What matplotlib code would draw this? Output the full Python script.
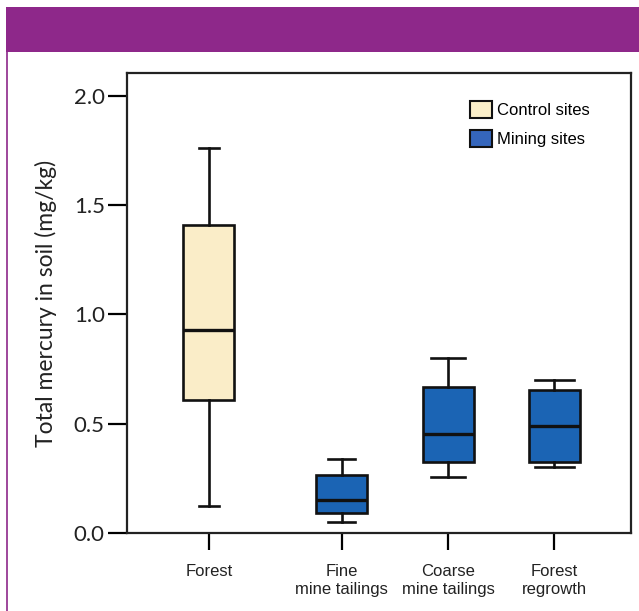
import matplotlib
matplotlib.use("Agg")
import matplotlib.pyplot as plt
from matplotlib.patches import Rectangle, Patch
from matplotlib.lines import Line2D

# ---- data ----
categories = ["Forest", "Fine\nmine tailings", "Coarse\nmine tailings", "Forest\nregrowth"]
groups = ["Control sites", "Mining sites", "Mining sites", "Mining sites"]
whislo = [0.124, 0.052, 0.258, 0.302]
q1 = [0.609, 0.093, 0.325, 0.326]
med = [0.929, 0.151, 0.452, 0.491]
q3 = [1.41, 0.267, 0.668, 0.653]
whishi = [1.76, 0.339, 0.800, 0.700]
yticks = [0.0, 0.5, 1.0, 1.5, 2.0]
ytick_labels = ["0.0", "0.5", "1.0", "1.5", "2.0"]
legend_labels = ["Control sites", "Mining sites"]

# ---- style ----
positions = [0.75, 2.0, 3.0, 4.0]
capwidths = [0.19, 0.25, 0.32, 0.37]
colors = {"Control sites": "#FAEDC8", "Mining sites": "#1B64B4"}
legend_colors = {"Control sites": "#FBEFC9", "Mining sites": "#3566BC"}
purple = "#8E288A"

fig = plt.figure(figsize=(6.39, 6.11), dpi=100)
W, H = 639, 611

# purple banner and left border
fig.patches.append(Rectangle((6 / W, 1 - 52 / H), 1 - 6 / W, 45 / H,
                             transform=fig.transFigure, facecolor=purple,
                             edgecolor="none", zorder=0))
fig.lines.append(Line2D([7 / W, 7 / W], [0, 1 - 52 / H], transform=fig.transFigure,
                        color=purple, lw=1.2))

ax = fig.add_axes([127 / W, (611 - 533) / H, (631 - 127) / W, (533 - 73) / H])

stats = []
for i in range(len(categories)):
    stats.append(dict(med=med[i], q1=q1[i], q3=q3[i], whislo=whislo[i],
                      whishi=whishi[i], fliers=[], label=categories[i]))

bp = ax.bxp(stats, positions=positions, widths=0.48, capwidths=capwidths,
            patch_artist=True, showfliers=False,
            boxprops=dict(linewidth=1.9, edgecolor="#111111"),
            medianprops=dict(color="#111111", linewidth=2.4),
            whiskerprops=dict(color="#111111", linewidth=1.9),
            capprops=dict(color="#111111", linewidth=1.9))
for patch, g in zip(bp["boxes"], groups):
    patch.set_facecolor(colors[g])

ax.set_xlim(-0.02, 4.72)
ax.set_ylim(0, 2.105)
ax.set_yticks(yticks)
ax.set_yticklabels(ytick_labels, fontsize=16, family="Lato", color="#222222")
ax.set_xticks(positions)
ax.set_xticklabels(categories, fontsize=12, family="Liberation Sans",
                   color="#222222", linespacing=1.3)
ax.tick_params(axis="y", direction="out", length=14, width=1.6, pad=2)
ax.tick_params(axis="x", direction="out", length=12, width=1.6, pad=10)
for s in ax.spines.values():
    s.set_linewidth(1.6)
    s.set_color("#222222")

ax.set_ylabel("Total mercury in soil (mg/kg)", fontsize=16.5, family="Lato",
              color="#222222", labelpad=12)

handles = [Patch(facecolor=legend_colors[l], edgecolor="#111111", linewidth=1.5)
           for l in legend_labels]
leg = ax.legend(handles, legend_labels, loc="upper left",
                bbox_to_anchor=((470 - 127) / 504, (533 - 101) / 460), frameon=False,
                prop=dict(family="Liberation Sans", size=12),
                handlelength=1.3, handleheight=1.2, handletextpad=0.3,
                labelspacing=0.7, borderpad=0, borderaxespad=0)

fig.savefig("out.png", dpi=100)
